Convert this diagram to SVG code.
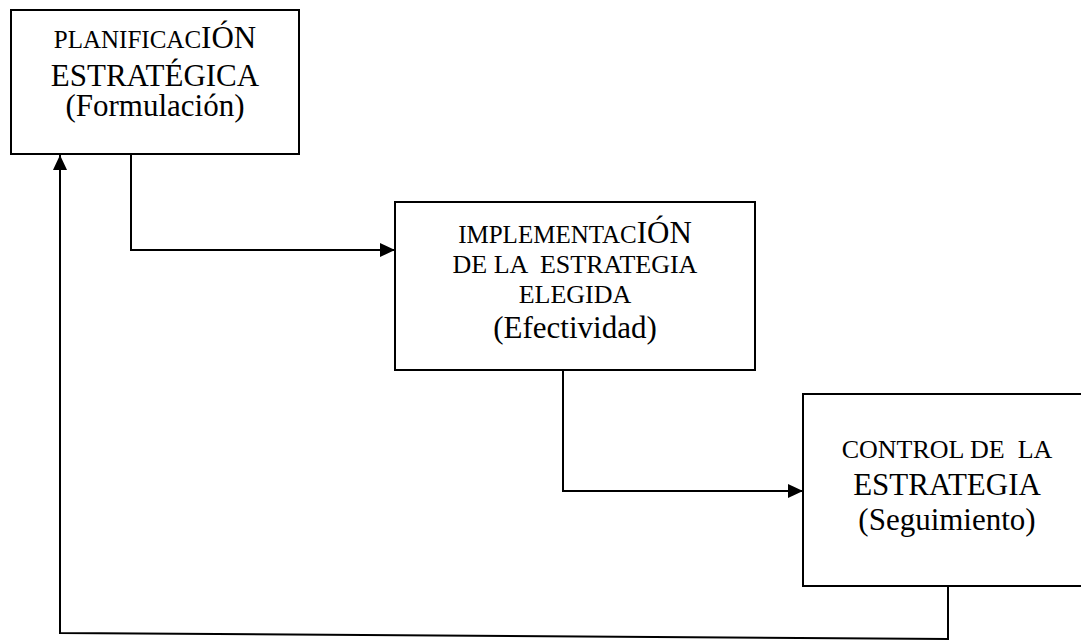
<svg xmlns="http://www.w3.org/2000/svg" width="1081" height="641" viewBox="0 0 1081 641">
  <defs>
    <marker id="arrow" viewBox="0 0 15 14" refX="15" refY="7" markerWidth="15" markerHeight="14" markerUnits="userSpaceOnUse" orient="auto">
      <path d="M0,0 L15,7 L0,14 Z" fill="#000000"/>
    </marker>
  </defs>
  <rect width="1081" height="641" fill="#ffffff"/>

  <g id="planificacion">
    <rect x="11" y="10" width="288" height="144" fill="#ffffff" stroke="#000000" stroke-width="2"/>
    <text font-family="Liberation Serif" text-anchor="middle" font-size="25" x="155" y="48">PLANIFICAC<tspan font-size="31">IÓN</tspan></text>
    <text font-family="Liberation Serif" text-anchor="middle" font-size="31" x="155" y="86">ESTRATÉGICA</text>
    <text font-family="Liberation Serif" text-anchor="middle" font-size="31" x="155" y="116">(Formulación)</text>
  </g>

  <g id="implementacion">
    <rect x="395" y="202" width="360" height="168" fill="#ffffff" stroke="#000000" stroke-width="2"/>
    <text font-family="Liberation Serif" text-anchor="middle" font-size="25" x="575" y="243">IMPLEMENTAC<tspan font-size="31">IÓN</tspan></text>
    <text font-family="Liberation Serif" text-anchor="middle" font-size="26" x="575" y="273">DE LA &#160;ESTRATEGIA</text>
    <text font-family="Liberation Serif" text-anchor="middle" font-size="26" x="575" y="303">ELEGIDA</text>
    <text font-family="Liberation Serif" text-anchor="middle" font-size="31" x="575" y="338">(Efectividad)</text>
  </g>

  <g id="control">
    <rect x="803" y="394" width="290" height="192" fill="#ffffff" stroke="#000000" stroke-width="2"/>
    <text font-family="Liberation Serif" text-anchor="middle" font-size="26" x="947" y="458">CONTROL DE &#160;LA</text>
    <text font-family="Liberation Serif" text-anchor="middle" font-size="31" x="947" y="495">ESTRATEGIA</text>
    <text font-family="Liberation Serif" text-anchor="middle" font-size="31" x="947" y="530">(Seguimiento)</text>
  </g>

  <g id="connectors" fill="none" stroke="#000000" stroke-width="2">
    <path d="M131,154 L131,250 L395,250" marker-end="url(#arrow)"/>
    <path d="M563,370 L563,491 L803,491" marker-end="url(#arrow)"/>
    <path d="M948,586 L948,639 L60,633 L60,155" marker-end="url(#arrow)"/>
  </g>
</svg>
